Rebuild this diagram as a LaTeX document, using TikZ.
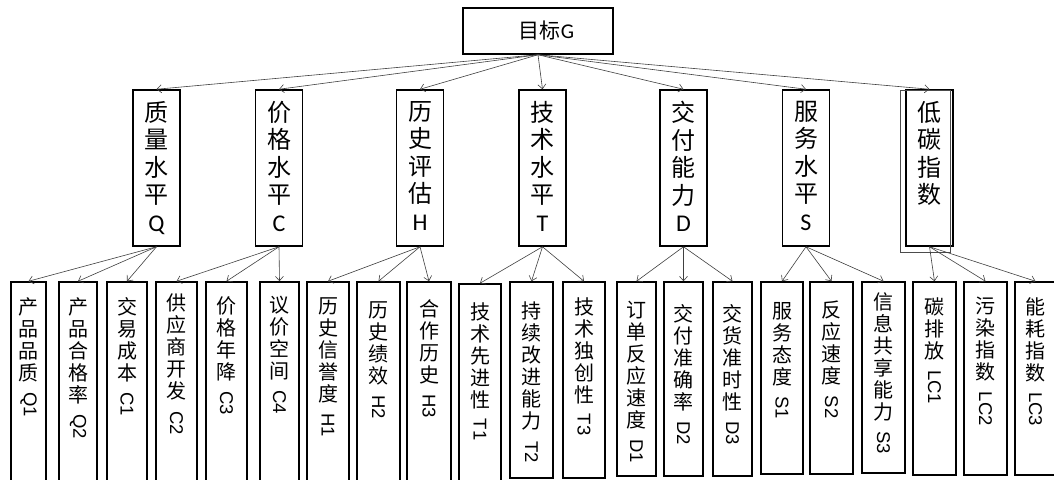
\documentclass[tikz,border=0pt]{standalone}
\usepackage{fontspec}
\setmainfont{Carlito}
\newfontfamily\cjk{Noto Sans CJK SC}
\newfontfamily\arl{Liberation Sans}
\usetikzlibrary{arrows.meta,calc}
\tikzset{
  gbox/.style={draw, line width=1.5pt, minimum width=150pt, minimum height=46pt, inner sep=0pt},
  midbox/.style={draw, line width=1.5pt, minimum width=47pt, minimum height=156pt, inner sep=0pt},
  leafbox/.style={draw, line width=1.5pt, inner sep=0pt},
  midtxt/.style={inner sep=0pt, align=center, anchor=north, font=\cjk\fontsize{24}{27.5}\selectfont},
  leaftxt/.style={inner sep=0pt, align=center, anchor=north, font=\cjk\fontsize{20}{22}\selectfont},
  codetxt/.style={inner sep=0pt, rotate=-90, anchor=west, font=\arl\fontsize{18.5}{20}\selectfont},
  arr/.style={draw=black!75, line width=0.6pt, -{Straight Barb[length=4.5pt,width=8pt]}},
  thinframe/.style={draw=black!70, line width=0.7pt, inner sep=0pt}
}
\newcommand\leafnode[8]{%
  \node[leafbox, minimum width={(#3-#2)*1pt}, minimum height={(#5-#4)*1pt}] (#1) at ({(#2+#3)/2},{(#4+#5)/2}) {};
  \node[leaftxt] (#1t) at ({(#2+#3)/2},#6) {#7};
  \node[codetxt] (#1c) at ($(#1t.south)+(0,10)$) {#8};
}
\newcommand\midnode[4]{%
  \node[midbox] (#1) at (#2,168) {};
  \node[midtxt] (#1t) at (#2,101) {#3\\{\rmfamily #4}};
}
\begin{document}
\begin{tikzpicture}[x=1pt,y=-1pt]
\clip (0,0) rectangle (1054,479);
\fill[white] (0,0) rectangle (1054,479);

% top
\node[gbox] (G) at (538,31) {};
\node[inner sep=0pt, font=\fontsize{21}{22}\selectfont] (Gt) at (546.5,31) {{\cjk 目标}G};

% level 2
\midnode{Q}{156.5}{质\\量\\水\\平}{Q}
\midnode{C}{279}{价\\格\\水\\平}{C}
\midnode{H}{420}{历\\史\\评\\估}{H}
\midnode{T}{542.5}{技\\术\\水\\平}{T}
\midnode{D}{683.5}{交\\付\\能\\力}{D}
\midnode{S}{806}{服\\务\\水\\平}{S}
\node[midbox] (LC) at (929.5,168) {};
\node[midtxt] (LCt) at (929.5,101) {低\\碳\\指\\数};
\node[thinframe, minimum width=50pt, minimum height=162pt] (LCf) at (925,171) {};

% leaves
\leafnode{q1}{11}{46}{282}{495}{297}{产\\品\\品\\质}{Q1}
\leafnode{q2}{59}{97}{282}{495}{297}{产\\品\\合\\格\\率}{Q2}
\leafnode{c1}{107}{147}{282}{495}{297}{交\\易\\成\\本}{C1}
\leafnode{c2}{156}{197}{282}{495}{294}{供\\应\\商\\开\\发}{C2}
\leafnode{c3}{206}{247}{282}{495}{296}{价\\格\\年\\降}{C3}
\leafnode{c4}{260}{299}{282}{495}{296}{议\\价\\空\\间}{C4}
\leafnode{h1}{307}{349}{282}{495}{297}{历\\史\\信\\誉\\度}{H1}
\leafnode{h2}{357}{400}{282}{495}{301}{历\\史\\绩\\效}{H2}
\leafnode{h3}{407}{451}{282}{495}{299}{合\\作\\历\\史}{H3}
\leafnode{t1}{459}{501}{284}{495}{302}{技\\术\\先\\进\\性}{T1}
\leafnode{t2}{510}{553}{282}{478}{302}{持\\续\\改\\进\\能\\力}{T2}
\leafnode{t3}{563}{605}{282}{478}{297}{技\\术\\独\\创\\性}{T3}
\leafnode{d1}{617}{656}{282}{476}{301}{订\\单\\反\\应\\速\\度}{D1}
\leafnode{d2}{664}{703}{282}{476}{304}{交\\付\\准\\确\\率}{D2}
\leafnode{d3}{713}{752}{282}{476}{304}{交\\货\\准\\时\\性}{D3}
\leafnode{s1}{761}{803}{282}{474}{302}{服\\务\\态\\度}{S1}
\leafnode{s2}{810}{853}{282}{474}{301}{反\\应\\速\\度}{S2}
\leafnode{s3}{862}{905}{282}{473}{292}{信\\息\\共\\享\\能\\力}{S3}
\leafnode{lc1}{913}{956}{282}{475}{297}{碳\\排\\放}{LC1}
\leafnode{lc2}{964}{1007}{282}{475}{297}{污\\染\\指\\数}{LC2}
\leafnode{lc3}{1015}{1056}{282}{475}{297}{能\\耗\\指\\数}{LC3}

% connectors
\foreach \m in {Q,C,H,T,D,S,LC} \draw[arr] (G.south) -- (\m.north);
\foreach \p/\c in {Q/q1,Q/q2,Q/c1,C/c2,C/c3,C/c4,H/h1,H/h2,H/h3,T/t1,T/t2,T/t3,D/d1,D/d2,D/d3,S/s1,S/s2,S/s3,LC/lc1,LC/lc2,LC/lc3}
  \draw[arr] (\p.south) -- (\c.north);
\end{tikzpicture}
\end{document}
